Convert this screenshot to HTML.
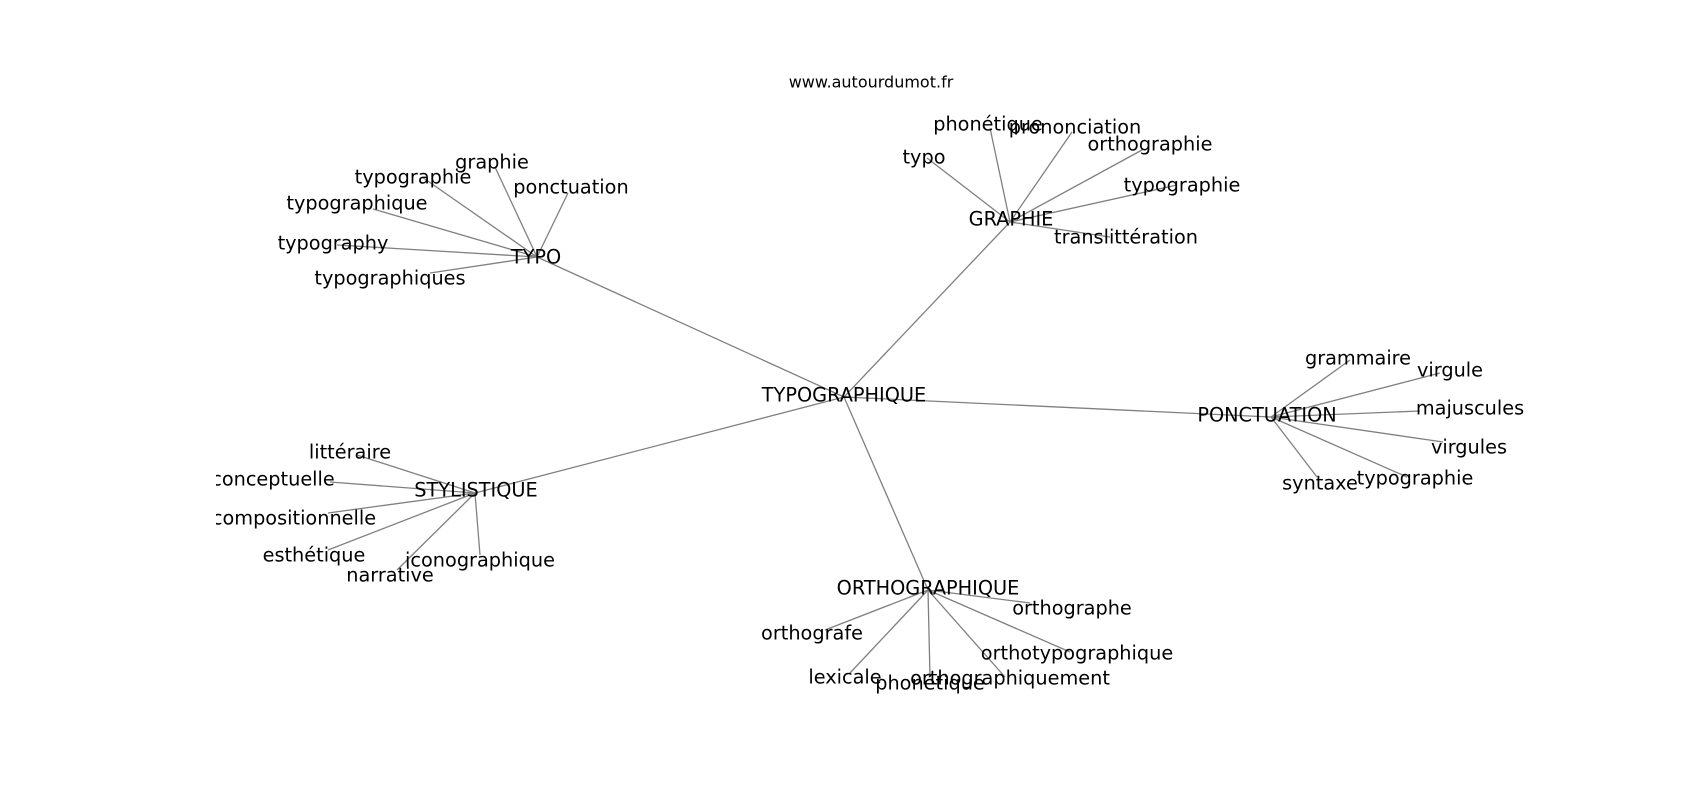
<!DOCTYPE html>
<html><head><meta charset="utf-8"><style>
html,body{margin:0;padding:0;background:#fff;}
svg{display:block}
text{font-family:"DejaVu Sans","Liberation Sans",sans-serif;font-size:19.3px;fill:#000;text-anchor:middle;dominant-baseline:central}
line{stroke:#808080;stroke-width:1.3}
</style></head><body>
<svg width="1700" height="800" viewBox="0 0 1700 800">
<defs><clipPath id="c"><rect x="216" y="0" width="1450" height="800"/></clipPath></defs>
<g clip-path="url(#c)">
<line x1="844" y1="397" x2="537" y2="257"/>
<line x1="844" y1="397" x2="1010" y2="222"/>
<line x1="844" y1="397" x2="475" y2="493"/>
<line x1="844" y1="397" x2="928" y2="590"/>
<line x1="844" y1="397" x2="1271" y2="417"/>
<line x1="537" y1="257" x2="495" y2="167"/>
<line x1="537" y1="257" x2="422" y2="177"/>
<line x1="537" y1="257" x2="373" y2="209"/>
<line x1="537" y1="257" x2="337" y2="245"/>
<line x1="537" y1="257" x2="430" y2="273"/>
<line x1="537" y1="257" x2="568" y2="193"/>
<line x1="1010" y1="222" x2="927" y2="158"/>
<line x1="1010" y1="222" x2="990" y2="128"/>
<line x1="1010" y1="222" x2="1072" y2="132"/>
<line x1="1010" y1="222" x2="1142" y2="150"/>
<line x1="1010" y1="222" x2="1177" y2="185"/>
<line x1="1010" y1="222" x2="1110" y2="237"/>
<line x1="475" y1="493" x2="357" y2="455"/>
<line x1="475" y1="493" x2="330" y2="482"/>
<line x1="475" y1="493" x2="328" y2="513"/>
<line x1="475" y1="493" x2="328" y2="550"/>
<line x1="475" y1="493" x2="397" y2="570"/>
<line x1="475" y1="493" x2="480" y2="555"/>
<line x1="928" y1="590" x2="1030" y2="603"/>
<line x1="928" y1="590" x2="825" y2="630"/>
<line x1="928" y1="590" x2="850" y2="673"/>
<line x1="928" y1="590" x2="930" y2="677"/>
<line x1="928" y1="590" x2="1070" y2="652"/>
<line x1="928" y1="590" x2="1005" y2="677"/>
<line x1="1271" y1="417" x2="1350" y2="360"/>
<line x1="1271" y1="417" x2="1440" y2="373"/>
<line x1="1271" y1="417" x2="1420" y2="411"/>
<line x1="1271" y1="417" x2="1443" y2="442"/>
<line x1="1271" y1="417" x2="1317" y2="477"/>
<line x1="1271" y1="417" x2="1407" y2="477"/>

<text x="844" y="395">TYPOGRAPHIQUE</text>
<text x="536" y="257">TYPO</text>
<text x="492" y="162">graphie</text>
<text x="413" y="177">typographie</text>
<text x="357" y="203">typographique</text>
<text x="333" y="243">typography</text>
<text x="390" y="278">typographiques</text>
<text x="571" y="187">ponctuation</text>

<text x="1011" y="219">GRAPHIE</text>
<text x="924" y="157">typo</text>
<text x="988" y="124">phonétique</text>
<text x="1075" y="127">prononciation</text>
<text x="1150" y="144">orthographie</text>
<text x="1182" y="185">typographie</text>
<text x="1126" y="237">translittération</text>

<text x="476" y="490">STYLISTIQUE</text>
<text x="350" y="452">littéraire</text>
<text x="273" y="479">conceptuelle</text>
<text x="294" y="518">compositionnelle</text>
<text x="314" y="555">esthétique</text>
<text x="390" y="575">narrative</text>
<text x="480" y="560">iconographique</text>

<text x="928" y="588">ORTHOGRAPHIQUE</text>
<text x="1072" y="608">orthographe</text>
<text x="812" y="633">orthografe</text>
<text x="845" y="677">lexicale</text>
<text x="930" y="683">phonétique</text>
<text x="1077" y="653">orthotypographique</text>
<text x="1010" y="678">orthographiquement</text>

<text x="1267" y="415">PONCTUATION</text>
<text x="1358" y="358">grammaire</text>
<text x="1450" y="370">virgule</text>
<text x="1470" y="408">majuscules</text>
<text x="1469" y="447">virgules</text>
<text x="1320" y="483">syntaxe</text>
<text x="1415" y="478">typographie</text>
</g>
<text x="871" y="82" style="font-size:16px">www.autourdumot.fr</text>
</svg>
</body></html>
